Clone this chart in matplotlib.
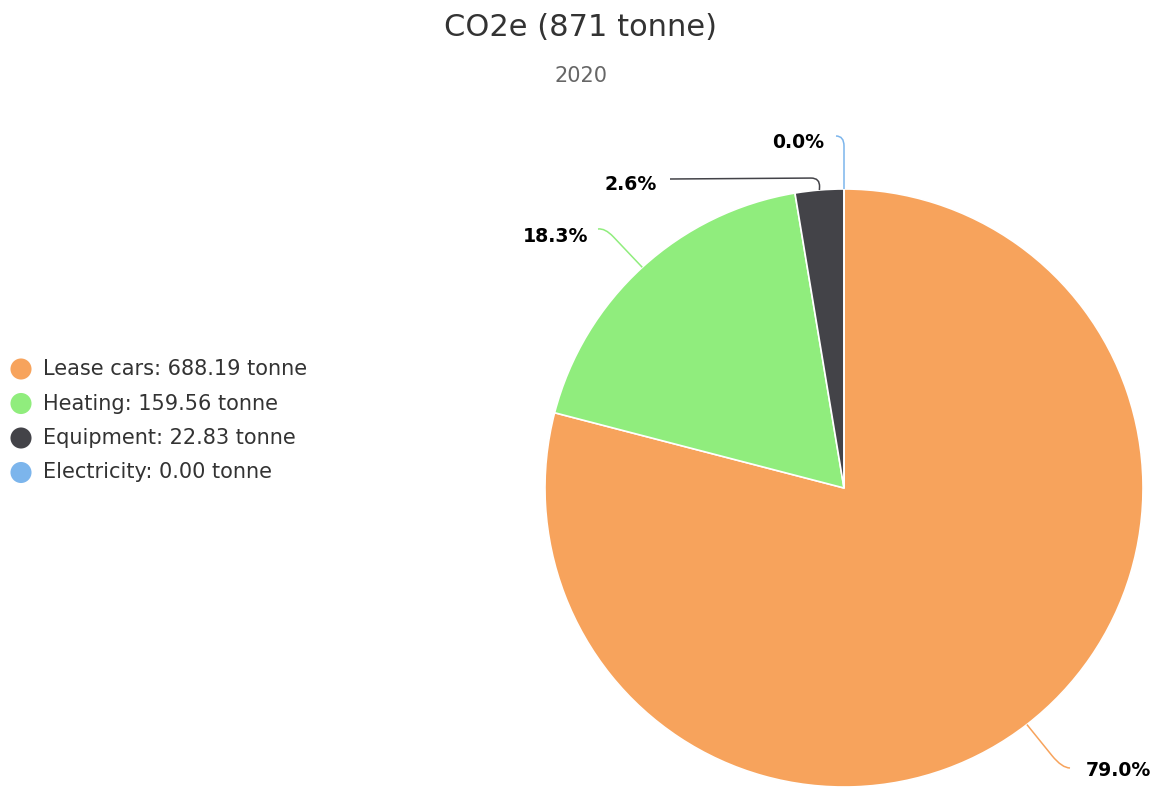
import numpy as np
import matplotlib.pyplot as plt
from matplotlib.path import Path
from matplotlib.patches import PathPatch

# emissions per source, tonne CO2e (2020)
sources = ["Lease cars", "Heating", "Equipment", "Electricity"]
tonnes = [688.19, 159.56, 22.83, 0.00]
colors = ["#f7a35c", "#90ed7d", "#434348", "#7cb5ec"]

title = "CO2e (871 tonne)"
subtitle = "2020"

W, H = 1156, 787
fig = plt.figure(figsize=(W / 100, H / 100), dpi=100)
ax = fig.add_axes([0, 0, 1, 1])

cx, cy, r = 844, 488, 299

# pixel coordinates with y pointing down; counterclock in data = clockwise on screen
ax.pie(tonnes, colors=colors, startangle=-90, counterclock=True,
       center=(cx, cy), radius=r, normalize=True,
       wedgeprops=dict(edgecolor="white", linewidth=1.2))
ax.set_xlim(0, W)
ax.set_ylim(H, 0)
ax.set_aspect("equal")
ax.axis("off")

vals = np.array(tonnes)
share = vals / vals.sum()
cum = np.concatenate([[0], np.cumsum(share)])
mid = np.deg2rad(-90 + 360 * (cum[:-1] + cum[1:]) / 2)

# connector elbow / end points and label anchors for each slice
elbows = [(1062, 768), (605, 228), (820, 178), (844, 136)]
ends = [(1070, 768), (598, 229), (670, 179), (836, 136)]
bends = [16, 12, 9, 10]
label_xy = [(1086, 771, "left"), (588, 236, "right"),
            (657, 184, "right"), (824, 142, "right")]


def toward(p, q, d):
    v = np.array(q, float) - np.array(p, float)
    n = np.hypot(*v)
    return tuple(np.array(p, float) + v / n * min(d, n))


for i in range(len(sources)):
    e = (cx + r * np.cos(mid[i]), cy + r * np.sin(mid[i]))
    c, t = elbows[i], ends[i]
    a = toward(c, e, bends[i])
    b = toward(c, t, bends[i])
    path = Path([e, a, c, b, t],
                [Path.MOVETO, Path.LINETO, Path.CURVE3, Path.CURVE3, Path.LINETO])
    ax.add_patch(PathPatch(path, fill=False, edgecolor=colors[i], lw=1.1))
    lx, ly, ha = label_xy[i]
    ax.text(lx, ly, f"{share[i] * 100:.1f}%", ha=ha, va="center",
            fontsize=13.6, fontweight="bold", color="black")

# legend
for i, (name, v) in enumerate(zip(sources, tonnes)):
    y = 369 + i * 34.5
    ax.scatter([21], [y], s=230, color=colors[i], edgecolor="none")
    ax.text(43, y, f"{name}: {v:.2f} tonne", ha="left", va="center",
            fontsize=15, color="#333333")

ax.text(580, 27, title, ha="center", va="center", fontsize=22, color="#333333")
ax.text(581, 76, subtitle, ha="center", va="center", fontsize=15, color="#666666")

fig.savefig("out.png", dpi=100)
